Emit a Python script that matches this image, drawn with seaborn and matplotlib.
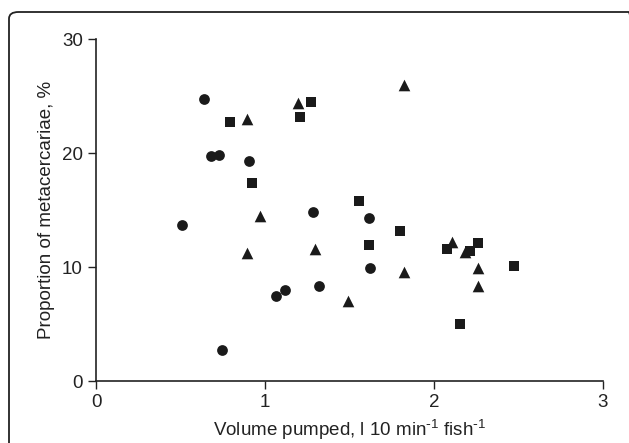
import numpy as np
import pandas as pd
import seaborn as sns
import matplotlib
matplotlib.use("Agg")
import matplotlib.pyplot as plt
from matplotlib.patches import FancyBboxPatch

# values
circle_x = [0.507, 0.64, 0.68, 0.73, 0.907, 1.286, 0.744, 1.065, 1.12, 1.32, 1.615, 1.62]
circle_y = [13.7, 24.7, 19.7, 19.8, 19.3, 14.8, 2.7, 7.5, 8.0, 8.3, 14.3, 9.9]
square_x = [0.793, 1.272, 1.207, 0.921, 1.555, 1.615, 1.80, 2.075, 2.213, 2.26, 2.475, 2.154]
square_y = [22.7, 24.5, 23.2, 17.4, 15.8, 11.9, 13.2, 11.6, 11.4, 12.1, 10.1, 5.0]
tri_x = [0.891, 1.193, 1.824, 0.972, 0.891, 1.296, 1.493, 1.824, 2.104, 2.183, 2.26, 2.26]
tri_y = [23.0, 24.4, 26.0, 14.5, 11.2, 11.6, 7.0, 9.6, 12.2, 11.3, 9.9, 8.3]

x_ticks = [0, 1, 2, 3]
y_ticks = [0, 10, 20, 30]

df = pd.DataFrame({
    'volume': circle_x + square_x + tri_x,
    'proportion': circle_y + square_y + tri_y,
    'group': ['circle'] * len(circle_x) + ['square'] * len(square_x) + ['triangle'] * len(tri_x),
})

sns.set_style("ticks")
plt.rcParams['font.family'] = ['Liberation Sans', 'DejaVu Sans']
plt.rcParams['mathtext.default'] = 'regular'

fig = plt.figure(figsize=(6.29, 4.43), dpi=100)
ax = fig.add_axes([96 / 629, 1 - 381 / 443, (603 - 96) / 629, (381 - 39) / 443])

sizes = {'circle': 60, 'square': 55, 'triangle': 70}
for grp, mk in [('circle', 'o'), ('square', 's'), ('triangle', '^')]:
    sub = df[df['group'] == grp]
    sns.scatterplot(data=sub, x='volume', y='proportion', marker=mk, color='#1a1a1a',
                    s=sizes[grp], linewidth=0, legend=False, ax=ax, clip_on=False)

ax.set_xlim(0, 3)
ax.set_ylim(0, 30)
ax.set_xticks(x_ticks)
ax.set_yticks(y_ticks)
ax.tick_params(axis='both', labelsize=13.5, length=6, width=1, color='#222222', labelcolor='#222222')
for side in ['top', 'right']:
    ax.spines[side].set_visible(False)
for side in ['left', 'bottom']:
    ax.spines[side].set_linewidth(1.2)
    ax.spines[side].set_color('#222222')

ax.set_xlabel(r'Volume pumped, l 10 min$^{\text{-}1}$ fish$^{\text{-}1}$', fontsize=13.5,
              color='#222222', labelpad=5)
ax.set_ylabel('Proportion of metacercariae, %', fontsize=13.5, color='#222222', labelpad=5)

# rounded frame around the whole figure
frame = FancyBboxPatch((9 / 629, -0.05), 1.0, 1 - 12 / 443 + 0.05,
                       boxstyle="round,pad=0,rounding_size=0.015",
                       transform=fig.transFigure, fill=False, edgecolor='#222222',
                       linewidth=1.3, clip_on=False)
fig.patches.append(frame)

fig.savefig('out.png', dpi=100)
